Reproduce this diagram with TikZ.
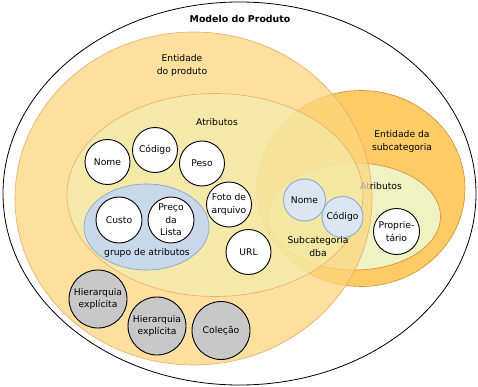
\documentclass[tikz,border=0pt]{standalone}
\usepackage{fontspec}
\setmainfont{DejaVu Sans}
\usepackage{tikz}
\definecolor{prodfill}{HTML}{FCD67E}
\definecolor{prodline}{HTML}{F0A86A}
\definecolor{attrfill}{HTML}{F0EFAF}
\definecolor{subfill}{HTML}{FECC66}
\definecolor{subline}{HTML}{E0862A}
\definecolor{greenfill}{HTML}{EFF2C2}
\definecolor{grpfill}{HTML}{C9D9EA}
\definecolor{grpline}{HTML}{7D9FD6}
\definecolor{bluefill}{HTML}{DCE6F2}
\definecolor{blueline}{HTML}{8DA9D8}
\definecolor{hierfill}{HTML}{C8C8C8}
\tikzset{every path/.style={semithick},
  attr/.style={circle, draw=black, line width=0.9pt, fill=white, minimum size=45pt, inner sep=0pt, align=center, font=\fontsize{9.2}{12.7}\selectfont},
  subattr/.style={attr, draw=blueline, fill=bluefill, minimum size=41pt},
  hier/.style={attr, fill=hierfill, minimum size=58pt},
  lbl/.style={align=center, font=\fontsize{9.2}{13}\selectfont}}

\begin{document}
\begin{tikzpicture}[x=1pt, y=-1pt]
    \useasboundingbox (0,0) rectangle (478,387);
    \draw[black, line width=0.8pt] (239.5,193.5) ellipse [x radius=236.5pt, y radius=191.5pt];
    \node[lbl, font=\fontsize{9.4}{11}\selectfont\bfseries] (modelo) at (240,19) {Modelo do Produto};

    % subcategoria
    \draw[subline, fill=subfill] (361,188.5) ellipse [x radius=104pt, y radius=98pt];
    \draw[subline, fill=greenfill] (354.5,216.5) ellipse [x radius=86pt, y radius=53.5pt];
    \node[lbl] (entsub) at (402,141.5) {Entidade da\\subcategoria};
    \node[attr, minimum size=46pt] (propr) at (396.5,231.5) {Proprie-\\tário};

    % produto
    \draw[prodline, fill=prodfill, fill opacity=0.75] (193.5,198.5) ellipse [x radius=178.5pt, y radius=166.5pt];
    \draw[prodline, fill=attrfill, fill opacity=0.6] (215,195) ellipse [x radius=148pt, y radius=101.5pt];
    \node[lbl] (entprod) at (182,65.5) {Entidade\\do produto};
    \node[lbl] (atrprod) at (217,122) {Atributos};
    \node[lbl] (atrsub) at (381,186.5) {\textcolor{black!35}{At}ributos};

    \node[attr] (nome) at (107.5,162) {Nome};
    \node[attr] (codigo) at (155,150) {Código};
    \node[attr] (peso) at (202,163.5) {Peso};
    \node[attr] (foto) at (229,204.5) {Foto de\\arquivo};
    \node[attr] (url) at (248.5,252) {URL};

    \draw[grpline, fill=grpfill] (146.5,227) ellipse [x radius=62.5pt, y radius=43pt];
    \node[attr, minimum size=46pt] (custo) at (119,220) {Custo};
    \node[attr, minimum size=46pt] (preco) at (171,220) {Preço\\da\\Lista};
    \node[lbl] (grupo) at (147,252.5) {grupo de atributos};

    \node[hier] (hier1) at (98,299) {Hierarquia\\explícita};
    \node[hier] (hier2) at (157,326) {Hierarquia\\explícita};
    \node[hier] (colecao) at (221,330.5) {Coleção};

    \node[subattr, minimum size=42pt] (nomesub) at (304.5,200) {Nome};
    \node[subattr] (codsub) at (342.5,217) {Código};
    \node[lbl] (subdba) at (318,246.5) {Subcategoria\\dba};
  \end{tikzpicture}
\end{document}
